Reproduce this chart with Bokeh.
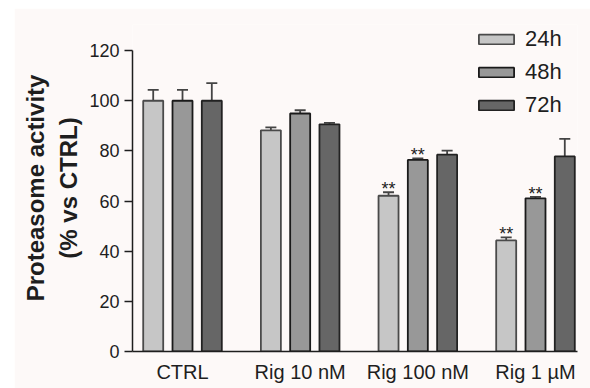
from bokeh.plotting import figure
from bokeh.models import ColumnDataSource, Whisker, TeeHead, FixedTicker, Legend, LegendItem, Range1d
from bokeh.core.properties import value
from bokeh.embed import file_html
from bokeh.resources import INLINE

# ---------------- data ----------------
categories = ["CTRL", "Rig 10 nM", "Rig 100 nM", "Rig 1 µM"]
series = ["24h", "48h", "72h"]

mean_24h = [100, 88.2, 62.1, 44.3]
sem_24h = [4.3, 1.2, 1.4, 1.2]
sig_24h = ["", "", "**", "**"]

mean_48h = [100, 94.9, 76.4, 61.1]
sem_48h = [4.3, 1.3, 0.6, 0.6]
sig_48h = ["", "", "**", "**"]

mean_72h = [100, 90.6, 78.5, 77.8]
sem_72h = [7.0, 0.6, 1.6, 7.0]
sig_72h = ["", "", "", ""]

y_ticks = [0, 20, 40, 60, 80, 100, 120]

# ---------------- style ----------------
BG = "#fdf9f8"
FILLS = ["#c6c6c6", "#989898", "#666666"]
LINES = ["#4a4a4a", "#1a1a1a", "#222222"]
OFFSETS = [-0.249, 0.0, 0.249]
BAR_W = 0.17
FONT = "Liberation Sans"
TXT = "#1e1e1e"

p = figure(width=576, height=380, output_backend="svg", toolbar_location=None,
           x_range=Range1d(-0.425, 3.357), y_range=Range1d(0, 130.4),
           min_border_left=118, min_border_right=13, min_border_top=16, min_border_bottom=37)
p.margin = (8, 0, 0, 14)
p.background_fill_color = BG
p.border_fill_color = BG
p.outline_line_color = None
p.xgrid.visible = False
p.ygrid.visible = False

all_means = [mean_24h, mean_48h, mean_72h]
all_sems = [sem_24h, sem_48h, sem_72h]
all_sigs = [sig_24h, sig_48h, sig_72h]

legend_items = []
for k, name in enumerate(series):
    xs = [i + OFFSETS[k] for i in range(len(categories))]
    m = all_means[k]
    s = all_sems[k]
    src = ColumnDataSource(dict(x=xs, mean=m, upper=[a + b for a, b in zip(m, s)], sig=all_sigs[k]))
    r = p.vbar(x="x", top="mean", bottom=0, width=BAR_W, source=src,
               fill_color=FILLS[k], line_color=LINES[k], line_width=1.8)
    legend_items.append(LegendItem(label=name, renderers=[r]))
    w = Whisker(base="x", upper="upper", lower="mean", source=src, dimension="height",
                line_color="#444444", line_width=1.8,
                upper_head=TeeHead(size=11, line_color="#444444", line_width=1.8),
                lower_head=None)
    p.add_layout(w)
    p.text(x="x", y="upper", text="sig", source=src, text_align="center",
           text_baseline="alphabetic", y_offset=-3, text_font_size="18px",
           text_font=value(FONT), text_color="#222222")

legend = Legend(items=legend_items, location=(342, 233), orientation="vertical",
                glyph_width=44, glyph_height=12, label_height=12, label_standoff=7,
                spacing=7, padding=0, margin=0,
                label_text_font=FONT, label_text_font_size="22px", label_text_color=TXT,
                border_line_alpha=0, background_fill_alpha=0)
p.add_layout(legend, "center")

# x axis
xa = p.xaxis[0]
xa.ticker = FixedTicker(ticks=list(range(len(categories))))
xa.major_label_overrides = {i: c for i, c in enumerate(categories)}
xa.major_tick_out = 0
xa.major_tick_in = 0
xa.minor_tick_out = 0
xa.minor_tick_in = 0
xa.axis_line_color = TXT
xa.axis_line_width = 1.5
xa.major_label_text_font = FONT
xa.major_label_text_font_size = "20px"
xa.major_label_text_color = TXT
xa.major_label_standoff = 9

# y axis
ya = p.yaxis[0]
ya.bounds = (0, 120)
ya.ticker = FixedTicker(ticks=y_ticks)
ya.major_tick_out = 8
ya.major_tick_in = 0
ya.minor_tick_out = 0
ya.minor_tick_in = 0
ya.axis_line_color = TXT
ya.axis_line_width = 1.5
ya.major_tick_line_color = TXT
ya.major_tick_line_width = 1.5
ya.major_label_text_font = FONT
ya.major_label_text_font_size = "18px"
ya.major_label_text_color = TXT
ya.major_label_standoff = 5
ya.axis_label = "Proteasome activity\n(% vs CTRL)"
ya.axis_label_text_font = FONT
ya.axis_label_text_font_size = "24px"
ya.axis_label_text_font_style = "bold"
ya.axis_label_text_color = TXT
ya.axis_label_text_line_height = 1.25
ya.axis_label_standoff = 4

open("out.html", "w").write(file_html(p, INLINE))
